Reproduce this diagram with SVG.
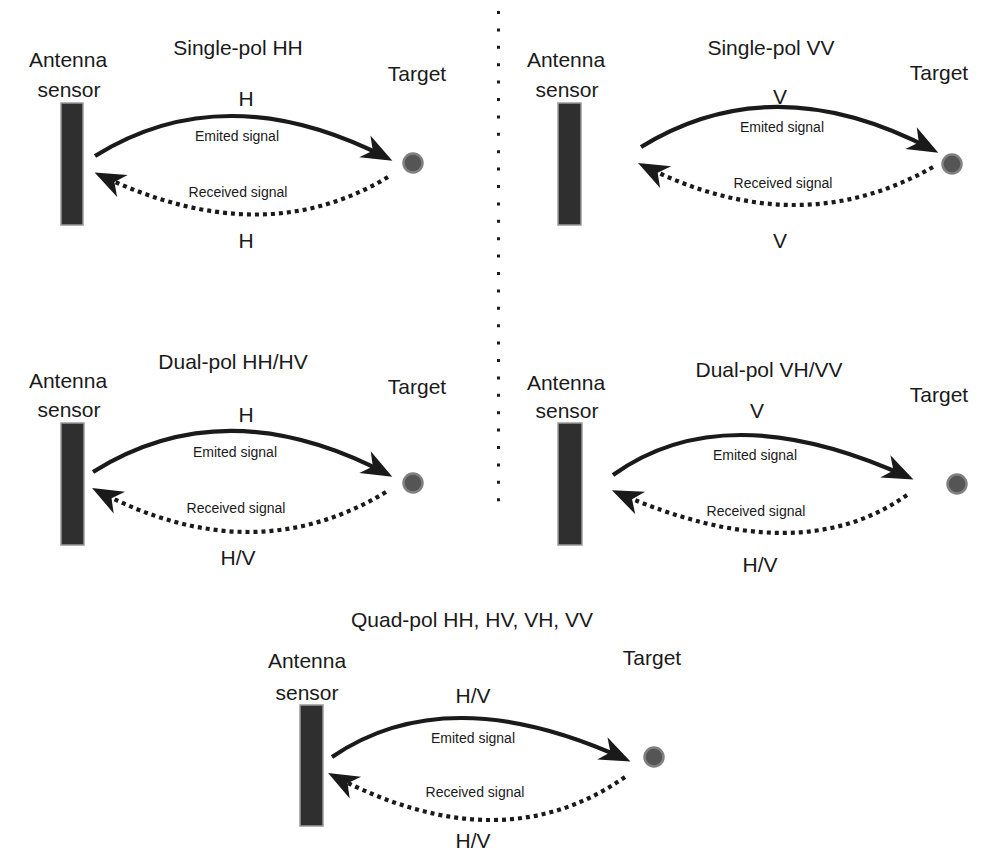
<svg xmlns="http://www.w3.org/2000/svg" width="1004" height="864" viewBox="0 0 1004 864">
<defs>
<marker id="ah" markerUnits="userSpaceOnUse" orient="auto" refX="0" refY="0" markerWidth="40" markerHeight="30" overflow="visible">
<path d="M 6 0 L -25 -12.5 L -16 0 L -25 12 Z" fill="#1a1a1a" stroke="none"/>
</marker>
<filter id="soft" x="-50%" y="-50%" width="200%" height="200%"><feGaussianBlur stdDeviation="0.7"/></filter>
</defs>
<style>
text{font-family:"Liberation Sans",Arial,Helvetica,sans-serif;fill:#1a1a1a;text-anchor:middle}
.lbl{font-size:21px}
.sig{font-size:14px}
.ant{fill:#2f2f2f;stroke:#9a9a9a;stroke-width:1.5}
.tgt{fill:#555;stroke:#808080;stroke-width:2.5;filter:url(#soft)}
.emit{fill:none;stroke:#1a1a1a;stroke-width:4.2;marker-end:url(#ah)}
.recv{fill:none;stroke:#1a1a1a;stroke-width:4.2;stroke-dasharray:4 4;marker-end:url(#ah)}
.div{stroke:#1a1a1a;stroke-width:3;stroke-dasharray:3 14.4}
</style>
<rect width="1004" height="864" fill="#fff"/>

<g id="divider"><line class="div" x1="498.5" y1="11" x2="498.5" y2="504"/></g>

<g id="panel-single-hh">
<text class="lbl" x="238" y="55">Single-pol HH</text>
<g id="antenna1"><text class="lbl" x="68" y="67">Antenna</text><text class="lbl" x="69" y="97">sensor</text><rect class="ant" x="61" y="103" width="22" height="122"/></g>
<g id="target1"><text class="lbl" x="417" y="81">Target</text><circle class="tgt" cx="413" cy="163" r="9.5"/></g>
<text class="lbl" x="246" y="106">H</text>
<text class="sig" x="237" y="141">Emited signal</text>
<text class="sig" x="238" y="197">Received signal</text>
<text class="lbl" x="246" y="248">H</text>
</g>

<g id="panel-single-vv">
<text class="lbl" x="771" y="55">Single-pol VV</text>
<g id="antenna2"><text class="lbl" x="566" y="67">Antenna</text><text class="lbl" x="567" y="97">sensor</text><rect class="ant" x="558" y="103" width="23" height="122"/></g>
<g id="target2"><text class="lbl" x="939" y="80">Target</text><circle class="tgt" cx="952" cy="164" r="9.5"/></g>
<text class="lbl" x="780" y="104">V</text>
<text class="sig" x="782" y="132">Emited signal</text>
<text class="sig" x="783" y="188">Received signal</text>
<text class="lbl" x="780" y="248">V</text>
</g>

<g id="panel-dual-hh-hv">
<text class="lbl" x="233" y="369">Dual-pol HH/HV</text>
<g id="antenna3"><text class="lbl" x="68" y="388">Antenna</text><text class="lbl" x="69" y="417">sensor</text><rect class="ant" x="61" y="423" width="23" height="122"/></g>
<g id="target3"><text class="lbl" x="417" y="394">Target</text><circle class="tgt" cx="413" cy="483" r="9.5"/></g>
<text class="lbl" x="246" y="422">H</text>
<text class="sig" x="235" y="457">Emited signal</text>
<text class="sig" x="236" y="513">Received signal</text>
<text class="lbl" x="238" y="565">H/V</text>
</g>

<g id="panel-dual-vh-vv">
<text class="lbl" x="769" y="377">Dual-pol VH/VV</text>
<g id="antenna4"><text class="lbl" x="566" y="390">Antenna</text><text class="lbl" x="567" y="418">sensor</text><rect class="ant" x="558" y="423" width="24" height="122"/></g>
<g id="target4"><text class="lbl" x="939" y="402">Target</text><circle class="tgt" cx="957" cy="484" r="9.5"/></g>
<text class="lbl" x="757" y="418">V</text>
<text class="sig" x="755" y="460">Emited signal</text>
<text class="sig" x="756" y="516">Received signal</text>
<text class="lbl" x="760" y="572">H/V</text>
</g>

<g id="panel-quad">
<text class="lbl" x="472" y="627">Quad-pol HH, HV, VH, VV</text>
<g id="antenna5"><text class="lbl" x="307" y="668">Antenna</text><text class="lbl" x="307" y="700">sensor</text><rect class="ant" x="300" y="705" width="23" height="121"/></g>
<g id="target5"><text class="lbl" x="652" y="665">Target</text><circle class="tgt" cx="654" cy="757" r="9.5"/></g>
<text class="lbl" x="473" y="703">H/V</text>
<text class="sig" x="473" y="743">Emited signal</text>
<text class="sig" x="475" y="797">Received signal</text>
<text class="lbl" x="473" y="848">H/V</text>
</g>

<g id="connectors">
<path class="emit" d="M 95 156 Q 225 75 387 158"/>
<path class="recv" d="M 388 177 Q 262 253 100 175"/>
<path class="emit" d="M 641 147 Q 773 65.5 933 150"/>
<path class="recv" d="M 933 167 Q 798 243.7 643.4 165.6"/>
<path class="emit" d="M 93 472 Q 226 389 387 474"/>
<path class="recv" d="M 386 492 Q 252.3 572.6 97.4 490.7"/>
<path class="emit" d="M 613 475 Q 725.5 394 908 477"/>
<path class="recv" d="M 907 495 Q 797.8 572 617.4 492.7"/>
<path class="emit" d="M 332 757 Q 447.5 678 625 759"/>
<path class="recv" d="M 625 777 Q 500.8 863.7 333.4 775.7"/>
</g>
</svg>
